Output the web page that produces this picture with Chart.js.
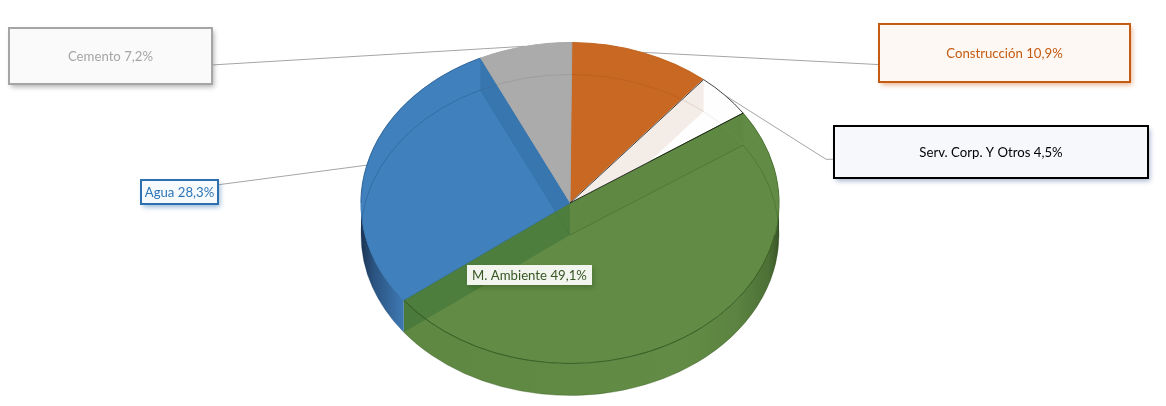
<!DOCTYPE html>
<html>
<head>
<meta charset="utf-8">
<style>
  html, body { margin: 0; padding: 0; background: #fff; }
  canvas { display: block; }
</style>
<script src="https://cdn.jsdelivr.net/npm/chart.js@4"></script>
</head>
<body>
<canvas id="pie" width="1166" height="406"></canvas>
<script>
const categories = ['Construcción', 'Serv. Corp. Y Otros', 'M. Ambiente', 'Agua', 'Cemento'];
const shares = [10.9, 4.5, 49.1, 28.3, 7.2];

const faceColors = ['#C96823', '#FEFEFE', '#628C45', '#3F80BD', '#ABABAB'];
const edgeColors = ['#C26522', '#FEFEFE', '#4C7433', '#3C7BB6', '#A8A8A8'];
const floorLines = ['rgba(110,50,10,.18)', 'rgba(150,150,150,.2)', 'rgba(40,70,20,.35)', 'rgba(25,60,100,.35)', 'rgba(60,60,60,.16)'];

// where the pie sits on the page, the library draws a circle and we squash it
const pie = { x: 570, y: 203, rx: 209, ry: 160.5, depth: 32 };

// box, text colour etc for each label, same order as categories
// tail = how far down the box side the leader line joins
const labelStyles = [
  { box: [879, 24, 251, 58], line: '#C55A11', fill: '#FEF8F4', text: '#C55A11', shadow: 'rgba(197,90,17,.45)', anchor: 'left', tail: 0.7 },
  { box: [834, 126, 314, 52], line: '#000000', fill: '#F6F8FB', text: '#000000', shadow: 'rgba(60,90,150,.45)', anchor: 'left', tail: 0.64, elbow: 826 },
  { box: [467, 265, 125, 20], line: null, fill: '#F1F5EE', text: '#375623', shadow: 'rgba(40,70,20,.35)' },
  { box: [141, 180, 77, 24], line: '#2E6FAD', fill: '#F7FAFD', text: '#2E75B6', shadow: 'rgba(46,111,173,.5)', anchor: 'right', tail: 0.2 },
  { box: [9, 28, 203, 56], line: '#A5A5A5', fill: '#FAFAFA', text: '#A5A5A5', shadow: 'rgba(100,100,100,.5)', anchor: 'right', tail: 0.66 },
];

const labelText = (i) => categories[i] + ' ' + shares[i].toFixed(1).replace('.', ',') + '%';

function rimPoint(angle, drop) {
  return { x: pie.x + pie.rx * Math.cos(angle), y: pie.y + drop + pie.ry * Math.sin(angle) };
}

function sidePath(ctx, a0, a1) {
  ctx.beginPath();
  ctx.ellipse(pie.x, pie.y, pie.rx, pie.ry, 0, a0, a1);
  ctx.ellipse(pie.x, pie.y + pie.depth, pie.rx, pie.ry, 0, a1, a0, true);
  ctx.closePath();
}

function sectorPath(ctx, el) {
  ctx.beginPath();
  ctx.moveTo(pie.x, pie.y);
  ctx.ellipse(pie.x, pie.y, pie.rx, pie.ry, 0, el.startAngle, el.endAngle);
  ctx.closePath();
}

// wall of a cut, from the centre out to the rim at the given angle
function cutWall(ctx, angle, fill) {
  const top = rimPoint(angle, 0);
  ctx.beginPath();
  ctx.moveTo(pie.x, pie.y);
  ctx.lineTo(top.x, top.y);
  ctx.lineTo(top.x, top.y + pie.depth);
  ctx.lineTo(pie.x, pie.y + pie.depth);
  ctx.closePath();
  ctx.fillStyle = fill;
  ctx.fill();
}

function cutFloorLine(ctx, angle, stroke) {
  const p = rimPoint(angle, pie.depth);
  ctx.beginPath();
  ctx.moveTo(pie.x, pie.y + pie.depth);
  ctx.lineTo(p.x, p.y);
  ctx.strokeStyle = stroke;
  ctx.lineWidth = 0.8;
  ctx.stroke();
}

function drawLeaders(ctx, arcs) {
  ctx.strokeStyle = '#A5A5A5';
  ctx.lineWidth = 1;
  labelStyles.forEach((s, i) => {
    if (!s.anchor) return;
    const mid = (arcs[i].startAngle + arcs[i].endAngle) / 2;
    const rim = rimPoint(mid, 0);
    const bx = s.anchor === 'left' ? s.box[0] : s.box[0] + s.box[2];
    const by = s.box[1] + s.box[3] * s.tail;
    ctx.beginPath();
    ctx.moveTo(rim.x, rim.y);
    if (s.elbow) ctx.lineTo(s.elbow, by);
    ctx.lineTo(bx, by);
    ctx.stroke();
  });
}

function drawSides(ctx, arcs) {
  const span = 2 * pie.rx, left = pie.x - pie.rx;
  const green = ctx.createLinearGradient(left, 0, left + span, 0);
  green.addColorStop(0, '#5E8742');
  green.addColorStop(0.78, '#628C45');
  green.addColorStop(0.9, '#5C8341');
  green.addColorStop(0.975, '#4C7036');
  green.addColorStop(1, '#3A5627');
  const blue = ctx.createLinearGradient(left, 0, left + span, 0);
  blue.addColorStop(0, '#1B3452');
  blue.addColorStop(0.03, '#2A5380');
  blue.addColorStop(0.1, '#3E78B2');
  const fills = [null, null, green, blue, null];
  arcs.forEach((el, i) => {
    if (!fills[i]) return;
    const a0 = Math.max(el.startAngle, 0), a1 = Math.min(el.endAngle, Math.PI);
    if (a1 <= a0) return;
    sidePath(ctx, a0, a1);
    ctx.fillStyle = fills[i];
    ctx.fill();
  });
}

function drawOverlay(ctx, arcs) {
  const serv = arcs[1], green = arcs[2], agua = arcs[3];

  // cut walls seen through the faces
  ctx.save();
  sectorPath(ctx, agua);
  ctx.clip();
  cutWall(ctx, agua.endAngle, '#3876B0');
  ctx.restore();

  ctx.save();
  sectorPath(ctx, serv);
  ctx.clip();
  cutWall(ctx, serv.startAngle, '#F4ECE6');
  ctx.restore();

  cutWall(ctx, green.startAngle, 'rgba(60,100,40,.08)');
  cutWall(ctx, green.endAngle, 'rgba(40,100,50,.35)');

  // floor of the pie, shows through the top
  arcs.forEach((el, i) => {
    ctx.beginPath();
    ctx.ellipse(pie.x, pie.y + pie.depth, pie.rx, pie.ry, 0, el.startAngle, el.endAngle);
    ctx.strokeStyle = floorLines[i];
    ctx.lineWidth = 0.8;
    ctx.stroke();
  });
  cutFloorLine(ctx, green.startAngle, 'rgba(40,70,20,.35)');
  cutFloorLine(ctx, agua.endAngle, 'rgba(25,60,100,.12)');

  // front edge of the top face
  ctx.beginPath();
  ctx.ellipse(pie.x, pie.y, pie.rx, pie.ry, 0, 0.2, green.endAngle);
  ctx.strokeStyle = 'rgba(40,70,20,.7)';
  ctx.lineWidth = 0.8;
  ctx.stroke();

  // thin dark outer rim
  ctx.beginPath();
  ctx.ellipse(pie.x, pie.y, pie.rx, pie.ry, 0, Math.PI, agua.endAngle);
  ctx.strokeStyle = 'rgba(25,50,80,.35)';
  ctx.stroke();

  sectorPath(ctx, serv);
  ctx.strokeStyle = '#111';
  ctx.lineWidth = 0.8;
  ctx.stroke();
}

function drawLabels(ctx) {
  ctx.font = '13.2px Lato';
  ctx.textAlign = 'center';
  ctx.textBaseline = 'middle';
  labelStyles.forEach((s, i) => {
    const [x, y, w, h] = s.box;
    ctx.save();
    ctx.shadowColor = s.shadow;
    ctx.shadowBlur = 5;
    ctx.shadowOffsetX = 2;
    ctx.shadowOffsetY = 3;
    ctx.fillStyle = s.fill;
    ctx.fillRect(x, y, w, h);
    ctx.restore();
    if (s.line) {
      ctx.strokeStyle = s.line;
      ctx.lineWidth = 2;
      ctx.strokeRect(x, y, w, h);
    }
    ctx.fillStyle = s.text;
    ctx.fillText(labelText(i), x + w / 2, y + h / 2 + 1);
  });
}

const tiltedPie = {
  id: 'tiltedPie',
  beforeDatasetsDraw(chart) {
    const ctx = chart.ctx;
    const arcs = chart.getDatasetMeta(0).data;
    drawLeaders(ctx, arcs);
    drawSides(ctx, arcs);
    const el = arcs[0];
    ctx.save();
    ctx.translate(pie.x, pie.y);
    ctx.scale(pie.rx / el.outerRadius, pie.ry / el.outerRadius);
    ctx.translate(-el.x, -el.y);
  },
  afterDatasetsDraw(chart) {
    const ctx = chart.ctx;
    ctx.restore();
    drawOverlay(ctx, chart.getDatasetMeta(0).data);
    drawLabels(ctx);
  },
};

new Chart(document.getElementById('pie').getContext('2d'), {
  type: 'pie',
  data: {
    labels: categories,
    datasets: [{
      data: shares,
      backgroundColor: faceColors,
      borderColor: edgeColors,
      borderWidth: 1,
      clip: false,
    }],
  },
  options: {
    responsive: false,
    animation: false,
    rotation: 0.5,
    plugins: {
      legend: { display: false },
      tooltip: { enabled: false },
    },
  },
  plugins: [tiltedPie],
});
</script>
</body>
</html>
